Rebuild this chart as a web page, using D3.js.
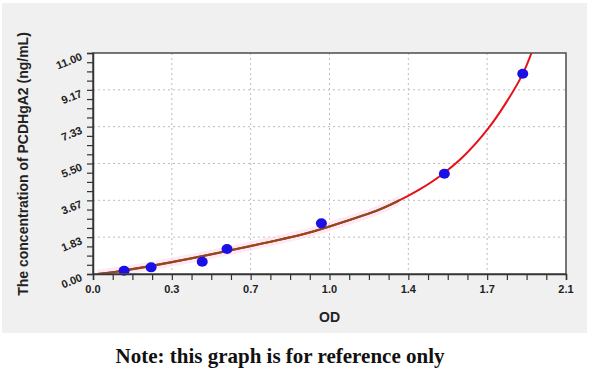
<!DOCTYPE html>
<html>
<head>
<meta charset="utf-8">
<style>
  body { margin: 0; background: #ffffff; }
  .axis-lbl { font-family: "Liberation Sans", Arial, sans-serif; font-weight: bold; fill: #222; }
</style>
<script src="https://d3js.org/d3.v7.min.js"></script>
</head>
<body>
<div id="chart"></div>
<script>
// standards
var odValues   = [0.138, 0.258, 0.485, 0.595, 1.014, 1.560, 1.908];
var concValues = [0.16, 0.33, 0.61, 1.24, 2.52, 4.99, 9.97];

// fitted curve
var fitOD   = [0.02, 0.126, 0.345, 0.653, 0.949, 1.045, 1.274, 1.397, 1.452, 1.541, 1.644, 1.755, 1.837, 1.908, 1.95];
var fitConc = [0.00, 0.15, 0.58, 1.28, 2.03, 2.35, 3.22, 3.88, 4.22, 4.88, 5.85, 7.25, 8.58, 9.96, 11.1];

var xTickValues = [0, 0.35, 0.7, 1.05, 1.4, 1.75, 2.1];
var xTickLabels = ["0.0", "0.3", "0.7", "1.0", "1.4", "1.7", "2.1"];
var yTickValues = [0, 1.8333, 3.6667, 5.5, 7.3333, 9.1667, 11];
var yTickLabels = ["0.00", "1.83", "3.67", "5.50", "7.33", "9.17", "11.00"];

var W = 600, H = 386;
var margin = { top: 53, right: 34, bottom: 112, left: 93 };
var width = W - margin.left - margin.right,
    height = H - margin.top - margin.bottom;

var svg = d3.select("#chart").append("svg")
    .attr("width", W)
    .attr("height", H);

// grey panel
svg.append("rect")
    .attr("x", 2).attr("y", 3)
    .attr("width", 585).attr("height", 330)
    .attr("fill", "#f0f0f0");

var g = svg.append("g")
    .attr("transform", "translate(" + margin.left + "," + margin.top + ")");

var x = d3.scaleLinear().domain([0, 2.1]).range([0, width]);
var y = d3.scaleLinear().domain([0, 11]).range([height, 0]);

g.append("rect")
    .attr("width", width).attr("height", height)
    .attr("fill", "#ffffff");

g.append("clipPath").attr("id", "plotclip")
  .append("rect").attr("width", width).attr("height", height);
g.append("clipPath").attr("id", "lowclip")
  .append("rect").attr("width", x(1.36)).attr("height", height);

// grid
g.selectAll(".vgrid")
    .data(xTickValues.slice(1, -1))
    .enter().append("line")
    .attr("x1", function(d) { return x(d); })
    .attr("x2", function(d) { return x(d); })
    .attr("y1", 0).attr("y2", height)
    .attr("stroke", "#bdbdbd").attr("stroke-width", 1)
    .attr("stroke-dasharray", "2,3");

g.selectAll(".hgrid")
    .data(yTickValues.slice(1, -1))
    .enter().append("line")
    .attr("y1", function(d) { return y(d); })
    .attr("y2", function(d) { return y(d); })
    .attr("x1", 0).attr("x2", width)
    .attr("stroke", "#bdbdbd").attr("stroke-width", 1)
    .attr("stroke-dasharray", "2,3");

// curve
var fitData = fitOD.map(function(d, i) { return { od: d, c: fitConc[i] }; });
var line = d3.line()
    .curve(d3.curveCatmullRom.alpha(0.5))
    .x(function(d) { return x(d.od); })
    .y(function(d) { return y(d.c); });

var curves = g.append("g").attr("clip-path", "url(#plotclip)");

curves.append("path")
    .datum(fitData)
    .attr("d", line)
    .attr("clip-path", "url(#lowclip)")
    .attr("fill", "none")
    .attr("stroke", "#fcdcee")
    .attr("stroke-opacity", 0.6)
    .attr("stroke-width", 9);

curves.append("path")
    .datum(fitData)
    .attr("d", line)
    .attr("fill", "none")
    .attr("stroke", "#e8101a")
    .attr("stroke-width", 2);

curves.append("path")
    .datum(fitData)
    .attr("d", line)
    .attr("clip-path", "url(#lowclip)")
    .attr("fill", "none")
    .attr("stroke", "#8f4a1c")
    .attr("stroke-width", 2.2);

// points
g.selectAll(".pt")
    .data(odValues)
    .enter().append("ellipse")
    .attr("cx", function(d) { return x(d); })
    .attr("cy", function(d, i) { return y(concValues[i]); })
    .attr("rx", 5.5).attr("ry", 5)
    .attr("fill", "#1a0fe6");

// frame
g.append("rect")
    .attr("width", width).attr("height", height)
    .attr("fill", "none")
    .attr("stroke", "#555").attr("stroke-width", 1.6);

// x axis
var xMinor = d3.range(0, 2.1 + 1e-6, 0.0875);
var xAxis = g.append("g")
    .attr("transform", "translate(0," + height + ")")
    .call(d3.axisBottom(x).tickValues(xMinor).tickSize(6).tickFormat(""));
xAxis.select(".domain").attr("stroke", "#333").attr("stroke-width", 1.5);
xAxis.selectAll(".tick line").attr("stroke", "#333").attr("stroke-width", 1.2);

g.selectAll(".xlab")
    .data(xTickValues)
    .enter().append("text")
    .attr("class", "axis-lbl")
    .attr("x", function(d) { return x(d); })
    .attr("y", height + 19)
    .attr("text-anchor", "middle")
    .style("font-size", "11px")
    .text(function(d, i) { return xTickLabels[i]; });

// y axis
var yMinor = d3.range(0, 11 + 1e-6, 11 / 24);
var yAxis = g.append("g")
    .call(d3.axisLeft(y).tickValues(yMinor).tickSize(6).tickFormat(""));
yAxis.select(".domain").attr("stroke", "#333").attr("stroke-width", 1.5);
yAxis.selectAll(".tick line").attr("stroke", "#333").attr("stroke-width", 1.2);

g.selectAll(".ylab")
    .data(yTickValues)
    .enter().append("text")
    .attr("class", "axis-lbl")
    .attr("transform", function(d) {
        return "translate(-10," + (y(d) + 6.5) + ") rotate(-22)";
    })
    .attr("text-anchor", "end")
    .style("font-size", "11px")
    .text(function(d, i) { return yTickLabels[i]; });

// titles
svg.append("text")
    .attr("class", "axis-lbl")
    .attr("transform", "translate(28," + 164 + ") rotate(-90)")
    .attr("text-anchor", "middle")
    .style("font-size", "14px")
    .text("The concentration of PCDHgA2 (ng/mL)");

svg.append("text")
    .attr("class", "axis-lbl")
    .attr("x", margin.left + width / 2)
    .attr("y", 322)
    .attr("text-anchor", "middle")
    .style("font-size", "14px")
    .text("OD");

svg.append("text")
    .attr("x", 280)
    .attr("y", 363)
    .attr("text-anchor", "middle")
    .style("font-family", "'Liberation Serif', 'DejaVu Serif', serif")
    .style("font-weight", "bold")
    .style("font-size", "21px")
    .style("fill", "#111")
    .text("Note: this graph is for reference only");
</script>
</body>
</html>
